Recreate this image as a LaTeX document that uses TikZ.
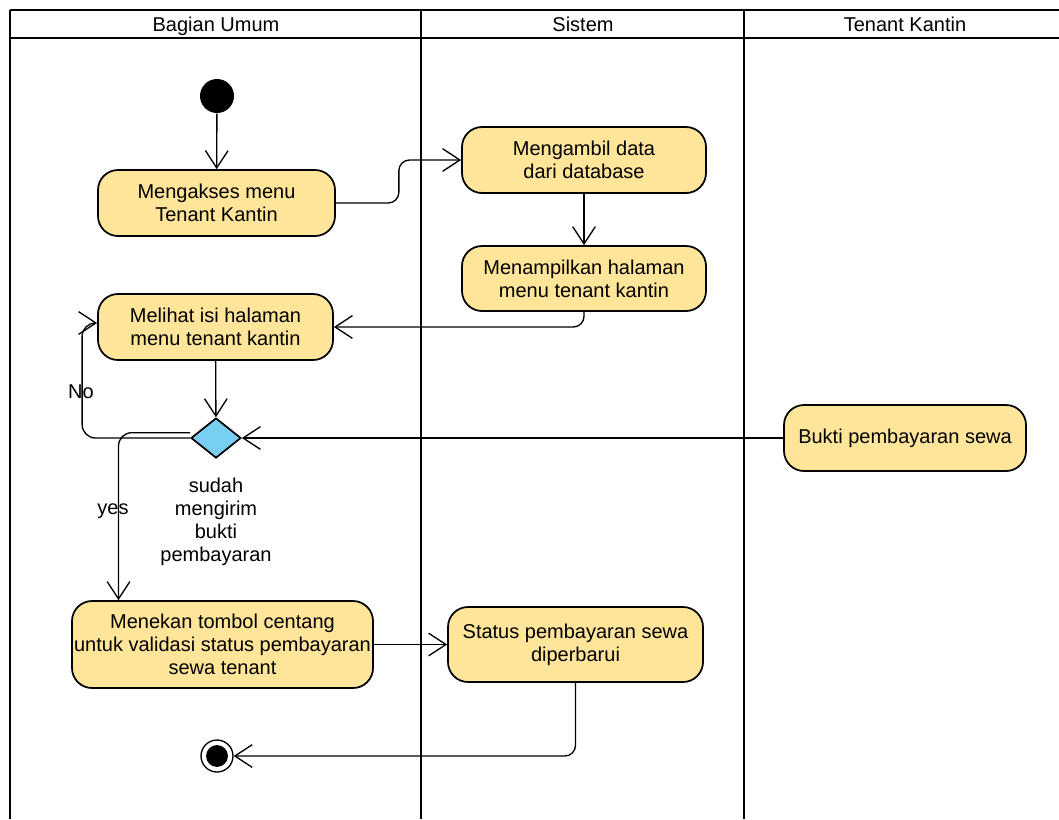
\documentclass[tikz,border=0pt]{standalone}
\usepackage{fontspec}
\setmainfont{Liberation Sans}
\usetikzlibrary{arrows.meta,shapes.geometric,calc}
\definecolor{actfill}{HTML}{FFE599}
\definecolor{diafill}{HTML}{79CFF2}
\begin{document}
\begin{tikzpicture}[x=0.75pt,y=-0.75pt,
  font=\fontsize{15}{17.4}\selectfont,
  act/.style={draw=black,line width=1.3pt,fill=actfill,rounded corners=15pt,align=center,inner sep=0pt},
  flow/.style={draw=black,line width=1pt,-{Straight Barb[length=13pt,width=17pt,line width=1pt]}},
  lane/.style={line width=2.2pt},
  lbl/.style={inner sep=0pt}
]
\useasboundingbox (0,0) rectangle (1059,819);
\fill[white] (0,0) rectangle (1059,819);
% swimlanes
\draw[lane] (10,10) -- (1059,10);
\draw[lane] (10,38) -- (1059,38);
\draw[lane] (10,10) -- (10,819);
\draw[lane] (421,10) -- (421,819);
\draw[lane] (744,10) -- (744,819);
\node[lbl,anchor=base] (h1) at (216,31) {Bagian Umum};
\node[lbl,anchor=base] (h2) at (583,31) {Sistem};
\node[lbl,anchor=base] (h3) at (905,31) {Tenant Kantin};
% nodes
\node[circle,fill=black,minimum size=25.5pt,inner sep=0pt] (start) at (217,96) {};
\node[act,minimum width=177.75pt,minimum height=49.5pt] (mengakses) at (216.5,203) {Mengakses menu\\Tenant Kantin};
\node[act,minimum width=183pt,minimum height=49.5pt] (mengambil) at (584,160) {Mengambil data\\dari database};
\node[act,minimum width=183pt,minimum height=48.75pt] (menampilkan) at (584,278.5) {Menampilkan halaman\\menu tenant kantin};
\node[act,minimum width=176.25pt,minimum height=49.5pt] (melihat) at (215.5,327) {Melihat isi halaman\\menu tenant kantin};
\node[diamond,draw=black,fill=diafill,line width=1.3pt,minimum width=37.5pt,minimum height=30pt,inner sep=0pt] (dia) at (216,438) {};
\node[act,minimum width=181.5pt,minimum height=49.5pt] (bukti) at (905,438) {Bukti pembayaran sewa};
\node[lbl,align=center] (cond) at (216,522) {sudah\\mengirim\\bukti\\pembayaran};
\node[lbl] (no) at (81,392) {No};
\node[lbl] (yes) at (113,511) {yes};
\node[act,minimum width=225.75pt,minimum height=65.25pt] (menekan) at (222.5,644.5) {Menekan tombol centang\\untuk validasi status pembayaran\\sewa tenant};
\node[act,minimum width=191.25pt,minimum height=56.25pt] (status) at (575.5,644.5) {Status pembayaran sewa\\diperbarui};
\node[circle,draw=black,line width=1pt,fill=white,minimum size=24pt,inner sep=0pt] (end) at (217,756) {};
\fill[black] (end.center) circle (8.2pt);
% connectors
\draw[flow] (start) -- (mengakses);
\draw[flow,rounded corners=8pt] (mengakses.east) -- ++(63,0) |- (mengambil.west);
\draw[flow] (mengambil) -- (menampilkan);
\draw[flow,rounded corners=8pt] (menampilkan.south) |- (melihat.east);
\draw[flow] (melihat) -- (dia);
\draw[flow] (bukti) -- (dia);
\draw[flow,rounded corners=10pt] (dia.west) -- ++(-108,0) |- ([yshift=3pt]melihat.west);
\draw[flow,rounded corners=10pt] ([yshift=4pt]dia.west) -| ([xshift=-78pt]menekan.north);
\draw[flow] (menekan) -- (status);
\draw[flow,rounded corners=8pt] (status.south) |- (end.east);
\end{tikzpicture}
\end{document}
